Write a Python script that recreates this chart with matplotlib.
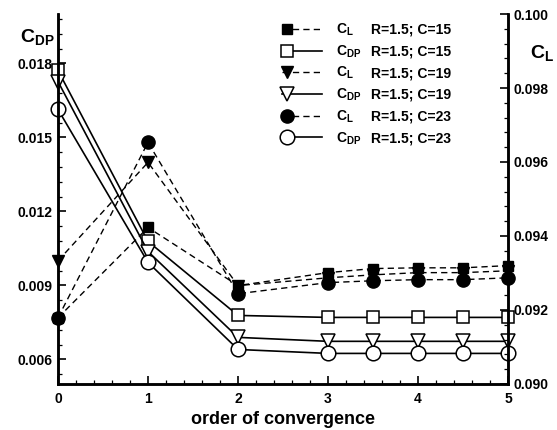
import matplotlib
matplotlib.use("Agg")
import matplotlib.pyplot as plt
from matplotlib.legend_handler import HandlerLine2DCompound
from matplotlib.ticker import MultipleLocator, FormatStrFormatter

plt.rcParams['font.family'] = ['Liberation Sans', 'DejaVu Sans']
plt.rcParams['font.weight'] = 'bold'
plt.rcParams['mathtext.fontset'] = 'custom'
plt.rcParams['mathtext.bf'] = 'Liberation Sans:bold'
plt.rcParams['mathtext.rm'] = 'Liberation Sans:bold'
plt.rcParams['mathtext.it'] = 'Liberation Sans:bold'

# order of convergence
order = [0, 1, 2, 3, 3.5, 4, 4.5, 5]

# lift coefficient (right axis)
cl_c15 = [0.09179, 0.09423, 0.09266, 0.09301, 0.09312, 0.09314, 0.09314, 0.09320]
cl_c19 = [0.09333, 0.09599, 0.09266, 0.09287, 0.09295, 0.09301, 0.09301, 0.09306]
cl_c23 = [0.09179, 0.09653, 0.09244, 0.09274, 0.09279, 0.09282, 0.09282, 0.09287]

# pressure drag coefficient (left axis)
cdp_c15 = [0.01771, 0.01078, 0.00778, 0.00770, 0.00770, 0.00770, 0.00770, 0.00770]
cdp_c19 = [0.01726, 0.01037, 0.00689, 0.00673, 0.00673, 0.00673, 0.00673, 0.00673]
cdp_c23 = [0.01613, 0.00993, 0.00640, 0.00624, 0.00624, 0.00624, 0.00624, 0.00624]

case_labels = ["R=1.5; C=15", "R=1.5; C=15", "R=1.5; C=19",
               "R=1.5; C=19", "R=1.5; C=23", "R=1.5; C=23"]


class MarkerLeftHandler(HandlerLine2DCompound):
    """Legend handler that puts the single marker near the left end."""
    def get_xdata(self, legend, xdescent, ydescent, width, height, fontsize):
        xdata, _ = super().get_xdata(legend, xdescent, ydescent, width, height, fontsize)
        return xdata, [0.12 * width - xdescent]


fig = plt.figure(figsize=(5.57, 4.30), dpi=100)
ax = fig.add_axes([58 / 557, 46 / 430, 450 / 557, 370 / 430])
ax2 = ax.twinx()

dash = (0, (4.5, 3))
lw_d = 1.0
lw_s = 1.2

l1, = ax2.plot(order, cl_c15, color='black', ls=dash, lw=lw_d, marker='s',
               ms=7, mfc='black', mec='black', label=r'$\mathbf{C_{L}}$')
l2, = ax.plot(order, cdp_c15, color='black', ls='-', lw=lw_s, marker='s',
              ms=8, mfc='white', mec='black', mew=1.1, label=r'$\mathbf{C_{DP}}$')
l3, = ax2.plot(order, cl_c19, color='black', ls=dash, lw=lw_d, marker='v',
               ms=8.5, mfc='black', mec='black', label=r'$\mathbf{C_{L}}$')
l4, = ax.plot(order, cdp_c19, color='black', ls='-', lw=lw_s, marker='v',
              ms=9.5, mfc='white', mec='black', mew=1.1, label=r'$\mathbf{C_{DP}}$')
l5, = ax2.plot(order, cl_c23, color='black', ls=dash, lw=lw_d, marker='o',
               ms=9.5, mfc='black', mec='black', label=r'$\mathbf{C_{L}}$')
l6, = ax.plot(order, cdp_c23, color='black', ls='-', lw=lw_s, marker='o',
              ms=10.5, mfc='white', mec='black', mew=1.1, label=r'$\mathbf{C_{DP}}$')
handles = [l1, l2, l3, l4, l5, l6]
for ln in handles:
    ln.set_clip_on(False)

# axes limits and ticks
ax.set_xlim(0, 5)
ax.set_ylim(0.005, 0.020)
ax2.set_ylim(0.090, 0.100)

ax.xaxis.set_major_locator(MultipleLocator(1))
ax.xaxis.set_minor_locator(MultipleLocator(0.2))
ax.yaxis.set_major_locator(MultipleLocator(0.003))
ax.yaxis.set_minor_locator(MultipleLocator(0.0006))
ax.yaxis.set_major_formatter(FormatStrFormatter('%.3f'))
ax2.yaxis.set_major_locator(MultipleLocator(0.002))
ax2.yaxis.set_minor_locator(MultipleLocator(0.0004))
ax2.yaxis.set_major_formatter(FormatStrFormatter('%.3f'))

ax.set_yticks([0.006, 0.009, 0.012, 0.015, 0.018])

for a in (ax, ax2):
    a.spines['top'].set_visible(False)
    for s in a.spines.values():
        s.set_linewidth(1.8)
    a.tick_params(which='major', direction='in', length=6, width=1.2,
                  labelsize=10, pad=4)
    a.tick_params(which='minor', direction='in', length=3, width=0.9)

ax.tick_params(axis='y', which='both', right=False)
ax.tick_params(axis='x', which='both', top=False, pad=6)
ax2.tick_params(axis='y', which='both', left=False)

for t in ax.get_xticklabels() + ax.get_yticklabels() + ax2.get_yticklabels():
    t.set_fontweight('bold')

ax.set_xlabel('order of convergence', fontsize=13, fontweight='bold', labelpad=3)

fig.text(20 / 557, 1 - 37 / 430, r'$\mathbf{C_{DP}}$', fontsize=14, ha='left', va='center')
fig.text(530 / 557, 1 - 53 / 430, r'$\mathbf{C_{L}}$', fontsize=14, ha='left', va='center')

leg = ax2.legend(handles=handles, loc='upper left', bbox_to_anchor=(272 / 557, 1 - 12 / 430),
                 bbox_transform=fig.transFigure, frameon=False, fontsize=10,
                 handlelength=2.9, handletextpad=1.0, labelspacing=0.38,
                 borderpad=0.2, numpoints=1,
                 handler_map={ln: MarkerLeftHandler() for ln in handles})

fig.canvas.draw()
renderer = fig.canvas.get_renderer()
inv = fig.transFigure.inverted()
for txt, lab in zip(leg.get_texts(), case_labels):
    bb = txt.get_window_extent(renderer)
    yc = inv.transform(((bb.x0 + bb.x1) / 2, (bb.y0 + bb.y1) / 2))[1]
    fig.text(371 / 557, yc, lab, fontsize=10, fontweight='bold', ha='left', va='center')

fig.savefig('out.png', dpi=100)
